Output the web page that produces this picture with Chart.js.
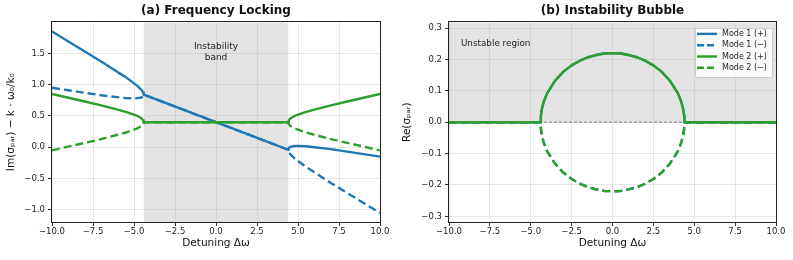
<!DOCTYPE html>
<html>
<head>
<meta charset="utf-8">
<script src="https://cdn.jsdelivr.net/npm/chart.js@4.4.1/dist/chart.umd.min.js"></script>
<style>
body { margin: 0; background: #fff; }
.wrap { position: absolute; top: 0; height: 260px; }
</style>
</head>
<body>
<div class="wrap" style="left:0;width:396px"><canvas id="chartLocking"></canvas></div>
<div class="wrap" style="left:396px;width:397px"><canvas id="chartBubble"></canvas></div>
<script>
// values

// (a) imaginary part vs detuning
var detuning = [-10, -9, -8, -7, -6, -5.5, -5, -4.8, -4.6, -4.5, -4.45, -4.42, -4.4,
    -2, 0, 2,
    4.4, 4.42, 4.45, 4.5, 4.6, 4.8, 5, 5.5, 6, 7, 8, 9, 10];
var imMode1Plus = [1.85, 1.69, 1.53, 1.37, 1.20, 1.12, 1.02, 0.98, 0.93, 0.90, 0.88, 0.86, 0.84,
    0.60, 0.40, 0.20,
    -0.04, -0.02, -0.01, 0.00, 0.01, 0.02, 0.02, 0.015, 0.00, -0.03, -0.07, -0.11, -0.15];
var imMode1Minus = [0.95, 0.91, 0.87, 0.83, 0.80, 0.785, 0.78, 0.785, 0.79, 0.80, 0.81, 0.82, 0.84,
    0.60, 0.40, 0.20,
    -0.04, -0.06, -0.08, -0.10, -0.13, -0.18, -0.22, -0.315, -0.40, -0.57, -0.73, -0.89, -1.05];
var imMode2Plus = [0.85, 0.79, 0.73, 0.67, 0.60, 0.565, 0.52, 0.50, 0.47, 0.45, 0.43, 0.42, 0.40,
    0.40, 0.40, 0.40,
    0.40, 0.42, 0.43, 0.45, 0.47, 0.50, 0.52, 0.565, 0.60, 0.67, 0.73, 0.79, 0.85];
var imMode2Minus = [-0.05, 0.01, 0.07, 0.13, 0.20, 0.235, 0.28, 0.30, 0.33, 0.35, 0.37, 0.38, 0.40,
    0.40, 0.40, 0.40,
    0.40, 0.38, 0.37, 0.35, 0.33, 0.30, 0.28, 0.235, 0.20, 0.13, 0.07, 0.01, -0.05];

// (b) real part vs detuning
var detuningRe = [-10, -4.4, -4.38, -4.35, -4.3, -4.2, -4, -3.5, -3, -2.5, -2, -1.5, -1, -0.5,
    0, 0.5, 1, 1.5, 2, 2.5, 3, 3.5, 4, 4.2, 4.3, 4.35, 4.38, 4.4, 10];
var reGrowth = [0, 0, 0.021, 0.033, 0.047, 0.066, 0.092, 0.133, 0.161, 0.181, 0.196, 0.207, 0.214, 0.219,
    0.22, 0.219, 0.214, 0.207, 0.196, 0.181, 0.161, 0.133, 0.092, 0.066, 0.047, 0.033, 0.021, 0, 0];
var reDecay = [0, 0, -0.021, -0.033, -0.047, -0.066, -0.092, -0.133, -0.161, -0.181, -0.196, -0.207, -0.214, -0.219,
    -0.22, -0.219, -0.214, -0.207, -0.196, -0.181, -0.161, -0.133, -0.092, -0.066, -0.047, -0.033, -0.021, 0, 0];

var bandEdges = [-4.4, 4.4];
var xTicks = [-10, -7.5, -5, -2.5, 0, 2.5, 5, 7.5, 10];
var yTicksIm = [-1.0, -0.5, 0.0, 0.5, 1.0, 1.5];
var yTicksRe = [-0.3, -0.2, -0.1, 0.0, 0.1, 0.2, 0.3];
var seriesLabels = ['Mode 1 (+)', 'Mode 1 (\u2212)', 'Mode 2 (+)', 'Mode 2 (\u2212)'];

var BLUE = '#1f77b4';
var GREEN = '#2ca02c';
var FONT = '"DejaVu Sans", sans-serif';

function pts(xs, ys) {
    return xs.map(function (x, i) { return { x: x, y: ys[i] }; });
}

function fmt(v) {
    return v.toFixed(1).replace('-', '\u2212');
}

function line(label, data, color, dashed, order) {
    return {
        label: label,
        data: data,
        borderColor: color,
        backgroundColor: color,
        borderWidth: 2.4,
        borderDash: dashed ? [8, 4] : [],
        borderJoinStyle: 'round',
        pointRadius: 0,
        tension: 0,
        fill: false,
        order: order
    };
}

function makeOptions(title, yMin, yMax, yTicks, yTitle, yWidth, rightPad) {
    return {
        responsive: true,
        maintainAspectRatio: false,
        animation: false,
        layout: { padding: { left: 0, right: rightPad, top: 0, bottom: 0 } },
        plugins: {
            legend: { display: false },
            tooltip: { enabled: false },
            title: {
                display: true,
                text: title,
                fullSize: false,
                color: '#111',
                font: { family: FONT, size: 12, weight: 'bold' },
                padding: { top: 4, bottom: 4 }
            }
        },
        scales: {
            x: {
                type: 'linear',
                min: -10,
                max: 10,
                afterBuildTicks: function (scale) {
                    scale.ticks = xTicks.map(function (v) { return { value: v }; });
                },
                afterFit: function (scale) { scale.height = 38; },
                ticks: {
                    callback: function (v) { return fmt(v); },
                    color: '#222',
                    font: { family: FONT, size: 8.5 },
                    padding: 1,
                    maxRotation: 0,
                    autoSkip: false
                },
                grid: { color: 'rgba(176,176,176,0.3)', tickColor: '#333', tickLength: 4 },
                border: { display: false },
                title: {
                    display: true,
                    text: 'Detuning \u0394\u03c9',
                    color: '#111',
                    font: { family: FONT, size: 10.5 },
                    padding: { top: 0, bottom: 10 }
                }
            },
            y: {
                min: yMin,
                max: yMax,
                afterBuildTicks: function (scale) {
                    scale.ticks = yTicks.map(function (v) { return { value: v }; });
                },
                afterFit: function (scale) { scale.width = yWidth; },
                ticks: {
                    callback: function (v) { return fmt(v); },
                    color: '#222',
                    font: { family: FONT, size: 8.5 },
                    padding: 3,
                    autoSkip: false
                },
                grid: { color: 'rgba(176,176,176,0.3)', tickColor: '#333', tickLength: 4 },
                border: { display: false },
                title: {
                    display: true,
                    text: yTitle,
                    color: '#111',
                    font: { family: FONT, size: 10.5 },
                    padding: { top: 5, bottom: 0 }
                }
            }
        }
    };
}

var spinesPlugin = {
    id: 'spines',
    afterDraw: function (chart) {
        var a = chart.chartArea;
        var ctx = chart.ctx;
        ctx.save();
        ctx.strokeStyle = '#222';
        ctx.lineWidth = 1;
        ctx.strokeRect(Math.round(a.left) - 0.5, Math.round(a.top) - 0.5,
            Math.round(a.right - a.left) + 1, Math.round(a.bottom - a.top) + 1);
        ctx.restore();
    }
};

// shaded instability band + note
var bandPlugin = {
    id: 'band',
    beforeDraw: function (chart) {
        var a = chart.chartArea;
        var xs = chart.scales.x;
        var ctx = chart.ctx;
        var x0 = xs.getPixelForValue(bandEdges[0]);
        var x1 = xs.getPixelForValue(bandEdges[1]);
        ctx.save();
        ctx.fillStyle = 'rgba(128,128,128,0.22)';
        ctx.fillRect(x0, a.top, x1 - x0, a.bottom - a.top);
        ctx.restore();
    },
    afterDatasetsDraw: function (chart) {
        var ctx = chart.ctx;
        var cx = chart.scales.x.getPixelForValue(0);
        var cy = chart.scales.y.getPixelForValue(1.52);
        ctx.save();
        ctx.fillStyle = '#222';
        ctx.font = '9px ' + FONT;
        ctx.textAlign = 'center';
        ctx.textBaseline = 'middle';
        ctx.fillText('Instability', cx, cy - 5);
        ctx.fillText('band', cx, cy + 6);
        ctx.restore();
    }
};

// shaded unstable half, zero line, note and legend box
var bubblePlugin = {
    id: 'bubble',
    beforeDraw: function (chart) {
        var a = chart.chartArea;
        var ctx = chart.ctx;
        var y0 = chart.scales.y.getPixelForValue(0);
        ctx.save();
        ctx.fillStyle = 'rgba(128,128,128,0.22)';
        ctx.fillRect(a.left, a.top, a.right - a.left, y0 - a.top);
        ctx.restore();
    },
    beforeDatasetsDraw: function (chart) {
        var a = chart.chartArea;
        var ctx = chart.ctx;
        var y0 = chart.scales.y.getPixelForValue(0);
        ctx.save();
        ctx.strokeStyle = '#666';
        ctx.lineWidth = 0.8;
        ctx.setLineDash([3, 2]);
        ctx.beginPath();
        ctx.moveTo(a.left, y0);
        ctx.lineTo(a.right, y0);
        ctx.stroke();
        ctx.restore();
    },
    afterDatasetsDraw: function (chart) {
        var a = chart.chartArea;
        var ctx = chart.ctx;
        ctx.save();
        ctx.fillStyle = '#222';
        ctx.font = '8.8px ' + FONT;
        ctx.textAlign = 'left';
        ctx.textBaseline = 'middle';
        ctx.fillText('Unstable region', chart.scales.x.getPixelForValue(-9.27), chart.scales.y.getPixelForValue(0.25));

        var w = 77, h = 49;
        var bx = a.right - w - 4;
        var by = a.top + 6;
        ctx.fillStyle = 'rgba(255,255,255,0.85)';
        ctx.strokeStyle = '#cccccc';
        ctx.lineWidth = 1;
        ctx.beginPath();
        ctx.roundRect(Math.round(bx) + 0.5, Math.round(by) + 0.5, w, h, 2);
        ctx.fill();
        ctx.stroke();
        ctx.font = '8px ' + FONT;
        chart.data.datasets.forEach(function (ds, i) {
            var y = by + 5.5 + i * 11.3;
            ctx.strokeStyle = ds.borderColor;
            ctx.lineWidth = 2.4;
            ctx.setLineDash(ds.borderDash.length ? [7, 3] : []);
            ctx.beginPath();
            ctx.moveTo(bx + 2, y);
            ctx.lineTo(bx + 22, y);
            ctx.stroke();
            ctx.setLineDash([]);
            ctx.fillStyle = '#222';
            ctx.fillText(ds.label, bx + 27, y);
        });
        ctx.restore();
    }
};

new Chart(document.getElementById('chartLocking').getContext('2d'), {
    type: 'line',
    data: {
        datasets: [
            line(seriesLabels[0], pts(detuning, imMode1Plus), BLUE, false, 4),
            line(seriesLabels[1], pts(detuning, imMode1Minus), BLUE, true, 3),
            line(seriesLabels[2], pts(detuning, imMode2Plus), GREEN, false, 2),
            line(seriesLabels[3], pts(detuning, imMode2Minus), GREEN, true, 1)
        ]
    },
    options: makeOptions('(a) Frequency Locking', -1.194, 1.994, yTicksIm,
        'Im(\u03c3\u209a\u2090\u1d63) \u2212 k \u00b7 \u03c9\u2080/k\u2080', 52, 16),
    plugins: [bandPlugin, spinesPlugin]
});

new Chart(document.getElementById('chartBubble').getContext('2d'), {
    type: 'line',
    data: {
        datasets: [
            line(seriesLabels[0], pts(detuningRe, reGrowth), BLUE, false, 4),
            line(seriesLabels[1], pts(detuningRe, reDecay), BLUE, true, 3),
            line(seriesLabels[2], pts(detuningRe, reGrowth), GREEN, false, 2),
            line(seriesLabels[3], pts(detuningRe, reDecay), GREEN, true, 1)
        ]
    },
    options: makeOptions('(b) Instability Bubble', -0.318, 0.318, yTicksRe,
        'Re(\u03c3\u209a\u2090\u1d63)', 53, 17),
    plugins: [bubblePlugin, spinesPlugin]
});
</script>
</body>
</html>
